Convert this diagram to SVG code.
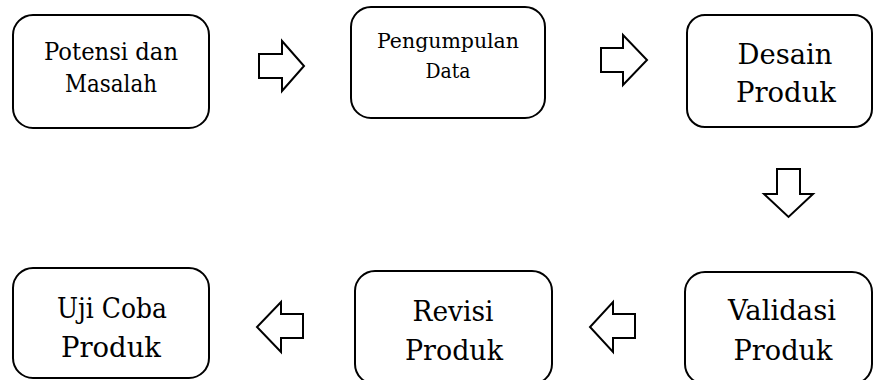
<svg xmlns="http://www.w3.org/2000/svg" width="874" height="380" viewBox="0 0 874 380">
<style>
.box{fill:#fff;stroke:#000;stroke-width:2}
.arr{fill:#fff;stroke:#000;stroke-width:2;stroke-linejoin:miter}
text{font-family:"DejaVu Serif","Liberation Serif",serif;fill:#000;text-anchor:middle}
.s22{font-size:23.5px}
.s20{font-size:21px}
.s27{font-size:28px}
</style>
<rect width="874" height="380" fill="#fff"/>
<g id="connectors">
<polygon class="arr" points="259,54 282,54 282,41 304,66 282,91 282,78 259,78"/>
<polygon class="arr" points="601,48 623,48 623,35 647,60 623,85 623,72 601,72"/>
<polygon class="arr" points="777,169 800,169 800,194 813,194 788.5,217 764,194 777,194"/>
<polygon class="arr" points="303,314 281,314 281,302 257,327 281,352 281,338 303,338"/>
<polygon class="arr" points="635,314 613,314 613,302 590,327 613,352 613,338 635,338"/>
</g>
<g id="potensi">
<rect class="box" x="13" y="15" width="196" height="113" rx="20"/>
<text class="s22" x="111" y="60" textLength="134" lengthAdjust="spacingAndGlyphs">Potensi dan</text>
<text class="s22" x="111" y="92" textLength="92" lengthAdjust="spacingAndGlyphs">Masalah</text>
</g>
<g id="pengumpulan">
<rect class="box" x="351" y="7" width="194" height="111" rx="20"/>
<text class="s20" x="448" y="48" textLength="142" lengthAdjust="spacingAndGlyphs">Pengumpulan</text>
<text class="s20" x="448" y="78" textLength="45" lengthAdjust="spacingAndGlyphs">Data</text>
</g>
<g id="desain">
<rect class="box" x="687" y="15" width="185" height="112" rx="18"/>
<text class="s27" x="785" y="64" textLength="95" lengthAdjust="spacingAndGlyphs">Desain</text>
<text class="s27" x="786" y="102" textLength="100" lengthAdjust="spacingAndGlyphs">Produk</text>
</g>
<g id="validasi">
<rect class="box" x="685" y="272" width="187" height="112" rx="20"/>
<text class="s27" x="782" y="320" textLength="108" lengthAdjust="spacingAndGlyphs">Validasi</text>
<text class="s27" x="783" y="360" textLength="99" lengthAdjust="spacingAndGlyphs">Produk</text>
</g>
<g id="revisi">
<rect class="box" x="355" y="271" width="197" height="113" rx="20"/>
<text class="s27" x="453" y="321" textLength="81" lengthAdjust="spacingAndGlyphs">Revisi</text>
<text class="s27" x="454" y="360" textLength="98" lengthAdjust="spacingAndGlyphs">Produk</text>
</g>
<g id="ujicoba">
<rect class="box" x="13" y="268" width="196" height="110" rx="20"/>
<text class="s27" x="112" y="318" textLength="110" lengthAdjust="spacingAndGlyphs">Uji Coba</text>
<text class="s27" x="111" y="357" textLength="100" lengthAdjust="spacingAndGlyphs">Produk</text>
</g>
</svg>
